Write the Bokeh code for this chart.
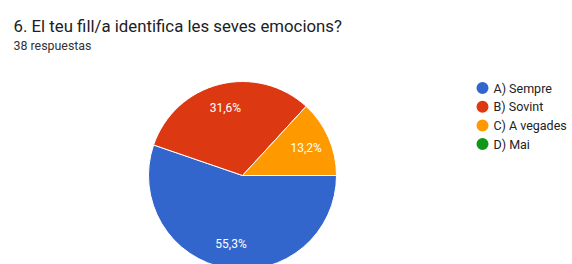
import math
from bokeh.plotting import figure
from bokeh.models import Range1d, ColumnDataSource
from bokeh.core.properties import value
from bokeh.embed import file_html
from bokeh.resources import INLINE

title_text = "6. El teu fill/a identifica les seves emocions?"
subtitle_text = "38 respuestas"
categories = ["A) Sempre", "B) Sovint", "C) A vegades", "D) Mai"]
counts = [21, 12, 5, 0]
colors = ["#3366cc", "#dc3912", "#ff9900", "#109618"]

W, H = 572, 264
p = figure(width=W, height=H, output_backend="svg", toolbar_location=None,
           x_range=Range1d(0, W), y_range=Range1d(0, H),
           min_border=0, outline_line_color=None)
p.axis.visible = False
p.grid.visible = False
p.background_fill_color = "white"
p.border_fill_color = "white"

# screen y (from top) -> data y
def wy(y):
    return H - y

cx, cy, r = 242, wy(175), 94
total = sum(counts)
starts, ends, mids, wcols = [], [], [], []
acc = 0.0
for c, col in zip(counts, colors):
    a0 = -2 * math.pi * acc / total
    acc += c
    a1 = -2 * math.pi * acc / total
    if c > 0:
        starts.append(a0)
        ends.append(a1)
        mids.append((a0 + a1) / 2)
        wcols.append(col)

src = ColumnDataSource(dict(start=starts, end=ends, color=wcols))
p.wedge(x=cx, y=cy, radius=r, start_angle="start", end_angle="end",
        direction="clock", fill_color="color", line_color="white",
        line_width=1, source=src)

# percent labels
lx, ly, lt = [], [], []
nz = [c for c in counts if c > 0]
for c, m in zip(nz, mids):
    lx.append(cx + 0.74 * r * math.cos(m))
    ly.append(cy + 0.74 * r * math.sin(m))
    lt.append(f"{c / total * 100:.1f}".replace(".", ",") + "%")
p.text(x=lx, y=ly, text=lt, text_color="white", text_font=value("Roboto"),
       text_font_size="12px", text_align="center", text_baseline="middle")

# title and subtitle
p.text(x=[13], y=[wy(25)], text=[title_text], text_color="#202124",
       text_font=value("Roboto"), text_font_size="16.8px",
       text_align="left", text_baseline="alphabetic")
p.text(x=[13], y=[wy(45)], text=[subtitle_text], text_color="#333333",
       text_font=value("Roboto"), text_font_size="12.4px",
       text_align="left", text_baseline="alphabetic")

# legend
leg_y = [wy(87.5 + 18.7 * i) for i in range(len(categories))]
p.scatter(x=[482] * len(categories), y=leg_y, size=12, marker="circle",
          fill_color=colors, line_color=None)
p.text(x=[493] * len(categories), y=leg_y, text=categories,
       text_color="#222222", text_font=value("Roboto"),
       text_font_size="12.5px", text_align="left", text_baseline="middle")

open("out.html", "w").write(file_html(p, INLINE))
